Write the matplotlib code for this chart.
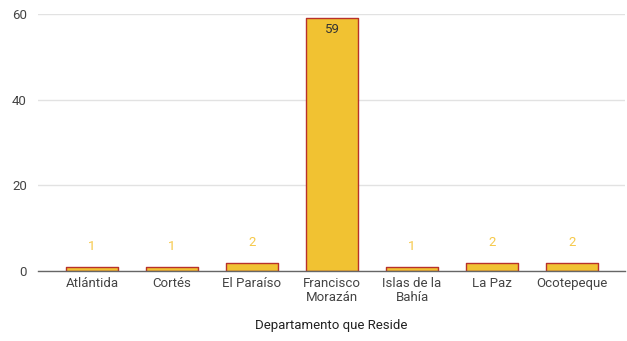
import matplotlib.pyplot as plt

departamentos = ["Atlántida", "Cortés", "El Paraíso", "Francisco\nMorazán",
                 "Islas de la\nBahía", "La Paz", "Ocotepeque"]
conteo = [1, 1, 2, 59, 1, 2, 2]

bar_fill = "#f1c232"
bar_edge = "#b8312a"
label_light = "#f6c94a"
text_gray = "#444444"

plt.rcParams['font.family'] = ['Roboto', 'DejaVu Sans']

fig = plt.figure(figsize=(6.27, 3.41), dpi=100)
ax = fig.add_axes([0.0606, 0.205, 0.936, 0.754])

x = list(range(len(departamentos)))
bars = ax.bar(x, conteo, width=0.65, color=bar_fill, edgecolor=bar_edge,
              linewidth=1.0, zorder=3)
for b in bars:
    b.set_joinstyle('round')

for xi, v in zip(x, conteo):
    if v > 30:
        ax.annotate(str(v), (xi, v), xytext=(0, -11), textcoords='offset pixels',
                    ha='center', va='center', fontsize=9.5, color="#333333", zorder=4)
    else:
        ax.annotate(str(v), (xi, v), xytext=(0, 20), textcoords='offset pixels',
                    ha='center', va='center', fontsize=9.5, color=label_light, zorder=4)

ax.set_xlim(-0.675, 6.66)
ax.set_ylim(0, 60)
ax.set_yticks([0, 20, 40, 60])
ax.set_xticks(x)
ax.set_xticklabels(departamentos, fontsize=9.5, color=text_gray, linespacing=1.1)
ax.tick_params(axis='y', labelsize=9.5, labelcolor=text_gray, length=0, pad=8)
ax.tick_params(axis='x', length=0, pad=4)

ax.grid(axis='y', color="#e2e2e2", linewidth=1.0, zorder=0)
for s in ['top', 'right', 'left']:
    ax.spines[s].set_visible(False)
ax.spines['bottom'].set_color("#666666")
ax.spines['bottom'].set_linewidth(1.0)
ax.spines['bottom'].set_zorder(5)

ax.set_xlabel("Departamento que Reside", fontsize=9.5, color="#222222", labelpad=11)

fig.savefig("out.png", dpi=100)
